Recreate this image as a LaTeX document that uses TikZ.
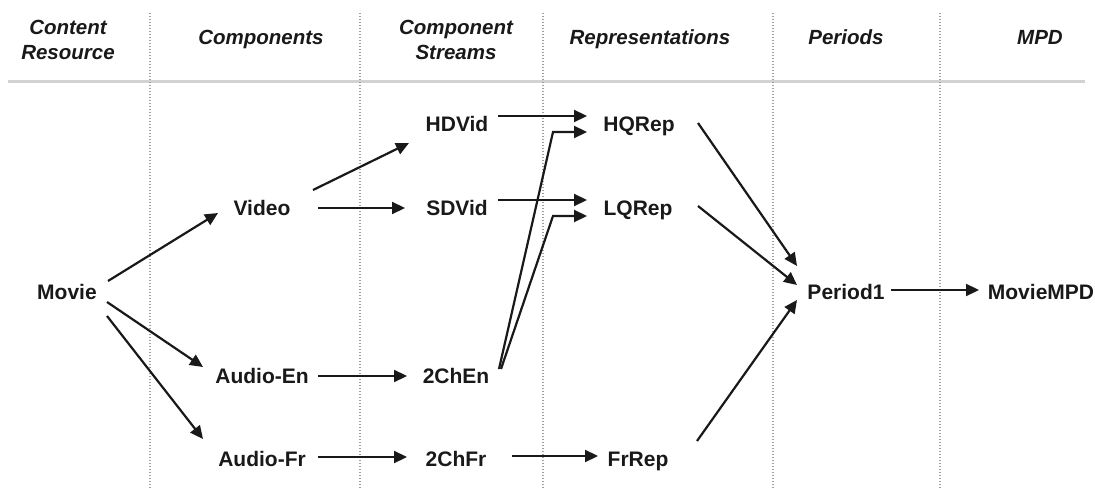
\documentclass[tikz,border=0pt]{standalone}
\usepackage{fontspec}
\setmainfont{Liberation Sans}
\usetikzlibrary{arrows.meta,calc}
\begin{document}
\begin{tikzpicture}[x=1pt,y=-1pt,
  lbl/.style={font=\fontsize{21}{25}\selectfont\bfseries, text=black!90, inner sep=0pt, anchor=base},
  hdr/.style={font=\fontsize{20.5}{25}\selectfont\bfseries\itshape, text=black!90, inner sep=0pt, anchor=base, align=center},
  conn/.style={line width=2.2pt, black!90, -{Triangle[length=13pt,width=12pt]}},
  sepline/.style={gray!75, line width=1.7pt, dash pattern=on 1.4pt off 1.6pt},
  headrule/.style={gray!35, line width=3pt},
]
\useasboundingbox (0,0) rectangle (1095,489);

% header rule and column separators
\coordinate (hl) at (8,82);
\coordinate (hr) at (1085,82);
\draw[headrule] (hl) -- (hr);
\foreach \x/\n in {150/a,360/b,543/c,773/d,940/e}{
  \coordinate (top\n) at (\x,13);
  \coordinate (bot\n) at (\x,489);
  \draw[sepline] (top\n) -- (bot\n);
}

% headers
\node[hdr] (h1) at (68,60) {Content\\Resource};
\node[hdr] (h2) at (261,45) {Components};
\node[hdr] (h3) at (456,60) {Component\\Streams};
\node[hdr] (h4) at (650,45) {Representations};
\node[hdr] (h5) at (846,45) {Periods};
\node[hdr] (h6) at (1040,45) {MPD};

% nodes
\node[lbl] (movie) at (67,299) {Movie};
\node[lbl] (video) at (262,215) {Video};
\node[lbl] (audioen) at (262,383) {Audio-En};
\node[lbl] (audiofr) at (262,466) {Audio-Fr};
\node[lbl] (hdvid) at (457,132) {HDVid};
\node[lbl] (sdvid) at (457,215) {SDVid};
\node[lbl] (chen) at (456,383) {2ChEn};
\node[lbl] (chfr) at (456,466) {2ChFr};
\node[lbl] (hqrep) at (639,132) {HQRep};
\node[lbl] (lqrep) at (638,215) {LQRep};
\node[lbl] (frrep) at (638,466) {FrRep};
\node[lbl] (period) at (846,299) {Period1};
\node[lbl] (mpd) at (1041,299) {MovieMPD};

% connectors
\draw[conn] ([shift={(41,-18)}]movie.base) -- ([shift={(-44,-2)}]video.base);
\draw[conn] ([shift={(40,3)}]movie.base) -- ([shift={(-59,-16)}]audioen.base);
\draw[conn] ([shift={(40,17)}]movie.base) -- ([shift={(-59,-27)}]audiofr.base);
\draw[conn] ([shift={(51,-25)}]video.base) -- ([shift={(-48,11)}]hdvid.base);
\draw[conn] ([shift={(56,-7)}]video.base) -- ([shift={(-52,-7)}]sdvid.base);
\draw[conn] ([shift={(41,-16)}]hdvid.base) -- ([shift={(-52,-16)}]hqrep.base);
\draw[conn] ([shift={(41,-15)}]sdvid.base) -- ([shift={(-51,-15)}]lqrep.base);
\draw[conn] ([shift={(43,-14)}]chen.base) -- ([shift={(-86,0)}]hqrep.base) -- ([shift={(-52,0)}]hqrep.base);
\draw[conn] ([shift={(45,-14)}]chen.base) -- ([shift={(-85,1)}]lqrep.base) -- ([shift={(-51,1)}]lqrep.base);
\draw[conn] ([shift={(56,-7)}]audioen.base) -- ([shift={(-49,-7)}]chen.base);
\draw[conn] ([shift={(56,-9)}]audiofr.base) -- ([shift={(-49,-9)}]chfr.base);
\draw[conn] ([shift={(56,-10)}]chfr.base) -- ([shift={(-40,-10)}]frrep.base);
\draw[conn] ([shift={(59,-9)}]hqrep.base) -- ([shift={(-49,-33)}]period.base);
\draw[conn] ([shift={(60,-9)}]lqrep.base) -- ([shift={(-49,-14)}]period.base);
\draw[conn] ([shift={(59,-25)}]frrep.base) -- ([shift={(-49,1)}]period.base);
\draw[conn] ([shift={(45,-9)}]period.base) -- ([shift={(-62,-9)}]mpd.base);
\end{tikzpicture}
\end{document}
